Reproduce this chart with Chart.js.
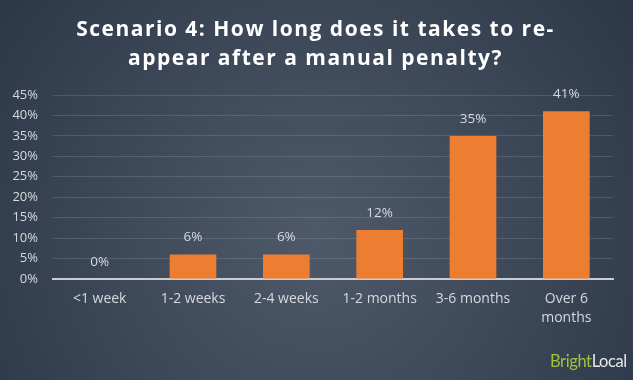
<!DOCTYPE html>
<html>
<head>
<meta charset="utf-8">
<script src="https://cdn.jsdelivr.net/npm/chart.js@4"></script>
<style>
  html, body { margin: 0; padding: 0; background: #2f3a4a; }
  #wrap { position: relative; width: 633px; height: 380px; }
  #logo { position: absolute; left: 550px; top: 352px; font-family: Lato, "Open Sans", sans-serif; font-size: 16.5px; letter-spacing: -0.4px; line-height: 18px; }
  #logo .g { color: #9cc43c; }
  #logo .w { color: #e6e8ea; }
</style>
</head>
<body>
<div id="wrap">
  <canvas id="c" width="633" height="380"></canvas>
  <div id="logo"><span class="g">Bright</span><span class="w">Local</span></div>
</div>
<script>
const titleLines = ["Scenario 4: How long does it takes to re-", "appear after a manual penalty?"];
const categories = ["<1 week", "1-2 weeks", "2-4 weeks", "1-2 months", "3-6 months", ["Over 6", "months"]];
const values = [0, 6, 6, 12, 35, 41];
const yMax = 45;
const yStep = 5;

const bgPlugin = {
  id: 'bg',
  beforeDraw(chart) {
    const ctx = chart.ctx;
    const w = chart.width, h = chart.height;
    ctx.save();
    const g = ctx.createRadialGradient(w * 0.5, h * 0.62, 10, w * 0.5, h * 0.62, w * 0.62);
    g.addColorStop(0, '#4d5869');
    g.addColorStop(0.5, '#3d4859');
    g.addColorStop(1, '#2c3747');
    ctx.fillStyle = g;
    ctx.fillRect(0, 0, w, h);
    ctx.restore();
  }
};

const titlePlugin = {
  id: 'customTitle',
  afterDraw(chart) {
    const ctx = chart.ctx;
    ctx.save();
    ctx.font = 'bold 21px "Open Sans", sans-serif';
    if ('letterSpacing' in ctx) ctx.letterSpacing = '1.5px';
    ctx.fillStyle = '#ffffff';
    ctx.textAlign = 'center';
    ctx.textBaseline = 'alphabetic';
    const cx = chart.width / 2 - 1;
    ctx.fillText(titleLines[0], cx, 36);
    ctx.fillText(titleLines[1], cx, 65);
    ctx.restore();
  }
};

const labelPlugin = {
  id: 'vals',
  afterDatasetsDraw(chart) {
    const ctx = chart.ctx;
    const meta = chart.getDatasetMeta(0);
    ctx.save();
    ctx.font = '13.5px "Open Sans", sans-serif';
    ctx.fillStyle = '#d6d9de';
    ctx.textAlign = 'center';
    ctx.textBaseline = 'middle';
    meta.data.forEach((bar, i) => {
      ctx.fillText(values[i] + '%', bar.x, bar.y - 17);
    });
    ctx.restore();
  }
};

new Chart(document.getElementById('c'), {
  type: 'bar',
  data: {
    labels: categories,
    datasets: [{
      data: values,
      backgroundColor: '#ed7d31',
      barPercentage: 0.5,
      categoryPercentage: 1.0
    }]
  },
  options: {
    responsive: false,
    animation: false,
    layout: { padding: { left: 0, right: 20, top: 95, bottom: 41 } },
    plugins: {
      legend: { display: false },
      tooltip: { enabled: false },
      title: { display: false }
    },
    scales: {
      x: {
        grid: { display: false, drawTicks: false },
        border: { display: true, color: '#c9cdd3', width: 2 },
        ticks: {
          color: '#d6d9de',
          font: { family: '"Open Sans", sans-serif', size: 14, lineHeight: 1.4 },
          padding: 10,
          maxRotation: 0,
          autoSkip: false
        },
        afterFit(scale) { scale.height = 60; }
      },
      y: {
        min: 0,
        max: yMax,
        grid: { color: 'rgba(255,255,255,0.13)', drawTicks: false },
        border: { display: false },
        ticks: {
          stepSize: yStep,
          color: '#d6d9de',
          font: { family: '"Open Sans", sans-serif', size: 13 },
          padding: 15,
          callback: v => v + '%'
        },
        afterFit(scale) { scale.width = 53; }
      }
    }
  },
  plugins: [bgPlugin, labelPlugin, titlePlugin]
});
</script>
</body>
</html>
